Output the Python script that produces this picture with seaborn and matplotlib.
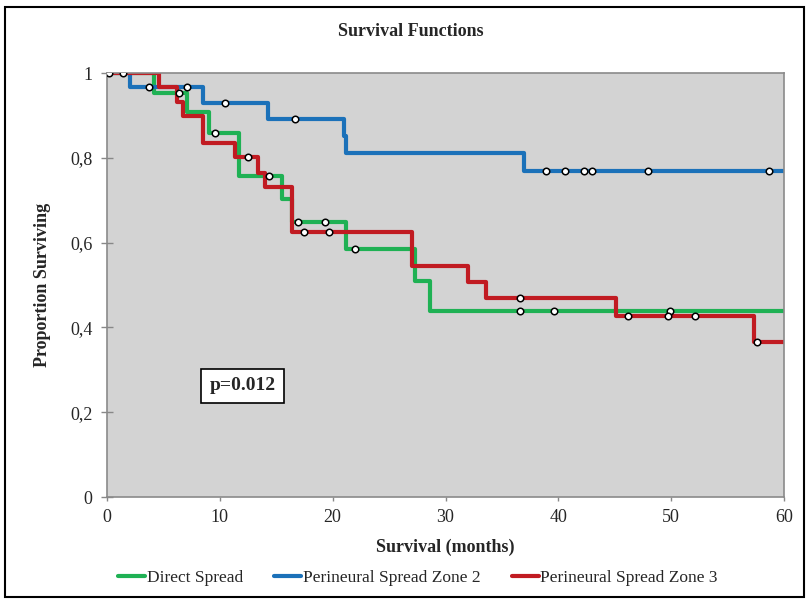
import numpy as np
import pandas as pd
import matplotlib
matplotlib.use("Agg")
import matplotlib.pyplot as plt
from matplotlib.lines import Line2D
from matplotlib.patches import Rectangle
import seaborn as sns

sns.set_theme(style="white")
plt.rcParams['font.family'] = ['Liberation Serif', 'DejaVu Serif']

# step curves (time in months, proportion after the step)
groups = ["Direct Spread", "Perineural Spread Zone 2", "Perineural Spread Zone 3"]
colors = ["#1fb154", "#1b71b9", "#c11b22"]

direct_t = [0, 4.2, 7.1, 9.0, 11.7, 15.5, 16.4, 21.2, 27.3, 28.6]
direct_s = [1.0, 0.952, 0.907, 0.859, 0.757, 0.702, 0.649, 0.585, 0.510, 0.439]
zone2_t = [0, 2.0, 8.5, 14.3, 21.0, 21.2, 37.0]
zone2_s = [1.0, 0.968, 0.930, 0.892, 0.851, 0.812, 0.770]
zone3_t = [0, 4.6, 6.2, 6.7, 8.5, 11.3, 13.4, 14.0, 16.4, 27.0, 32.0, 33.6, 45.1, 57.3]
zone3_s = [1.0, 0.968, 0.932, 0.899, 0.834, 0.801, 0.763, 0.732, 0.626, 0.545, 0.507, 0.470, 0.427, 0.365]

# censored observations
direct_ct = [6.4, 9.6, 14.4, 16.9, 19.3, 22.0, 36.6, 39.6, 49.9]
direct_cs = [0.952, 0.859, 0.757, 0.649, 0.649, 0.585, 0.439, 0.439, 0.439]
zone2_ct = [3.7, 7.1, 10.5, 16.7, 38.9, 40.6, 42.3, 42.95, 47.97, 58.7]
zone2_cs = [0.968, 0.968, 0.930, 0.892, 0.770, 0.770, 0.770, 0.770, 0.770, 0.770]
zone3_ct = [0.2, 1.4, 12.5, 17.5, 19.7, 36.6, 46.2, 49.7, 52.1, 57.6]
zone3_cs = [1.0, 1.0, 0.801, 0.626, 0.626, 0.470, 0.427, 0.427, 0.427, 0.365]

end_time = 60

rows = []
for g, t, s in zip(groups, [direct_t, zone2_t, zone3_t], [direct_s, zone2_s, zone3_s]):
    for ti, si in zip(t + [end_time], s + [s[-1]]):
        rows.append({"Time": ti, "Surv": si, "Group": g})
curves = pd.DataFrame(rows)

crows = []
for g, t, s in zip(groups, [direct_ct, zone2_ct, zone3_ct], [direct_cs, zone2_cs, zone3_cs]):
    for ti, si in zip(t, s):
        crows.append({"Time": ti, "Surv": si, "Group": g})
censored = pd.DataFrame(crows)

fig = plt.figure(figsize=(8.09, 6.01), dpi=100)
fig.patch.set_facecolor("white")
ax = fig.add_axes([107/809, 1 - 497/601, 677/809, 424/601])
ax.set_facecolor("#d3d3d3")

sns.lineplot(data=curves, x="Time", y="Surv", hue="Group", hue_order=groups,
             palette=colors, drawstyle="steps-post", estimator=None, sort=False,
             linewidth=3.0, legend=False, ax=ax)
sns.scatterplot(data=censored, x="Time", y="Surv", color="white", edgecolor="black",
                s=22, linewidth=1.1, legend=False, ax=ax, zorder=5)

ax.set_xlim(0, 60)
ax.set_ylim(0, 1)
ax.set_xticks(np.arange(0, 61, 10))
ax.set_yticks(np.arange(0, 1.01, 0.2))
ax.set_yticklabels(["0", "0,2", "0,4", "0,6", "0,8", "1"])
ax.tick_params(axis="y", direction="inout", length=9, width=1, color="#888888",
               labelsize=13, pad=6, left=True)
ax.tick_params(axis="x", direction="out", length=3, width=1, color="#888888",
               labelsize=13, pad=6, bottom=True)
for sp in ax.spines.values():
    sp.set_color("#8a8a8a")
    sp.set_linewidth(1.2)

ax.set_xlabel("Survival (months)", fontsize=13, fontweight="bold", labelpad=9)
ax.set_ylabel("Proportion Surviving", fontsize=13, fontweight="bold", labelpad=14)
fig.text(411/809, 1 - 32/601, "Survival Functions", fontsize=13, fontweight="bold",
         ha="center", va="center")

ax.text(12.0, 0.262, "p=0.012", fontsize=14, fontweight="bold", ha="center", va="center",
        bbox=dict(boxstyle="square,pad=0.45", facecolor="white", edgecolor="black", linewidth=1.2))

handles = [Line2D([0], [0], color=c, lw=3.0) for c in colors]
fig.legend(handles, groups, loc="center", bbox_to_anchor=(418/809, 1 - 578/601), ncol=3,
           frameon=False, fontsize=12.5, handlelength=1.55, handletextpad=0.1,
           columnspacing=1.8)

fig.add_artist(Rectangle((5/809, 4/601), 799/809, 590/601, transform=fig.transFigure,
                         fill=False, edgecolor="black", linewidth=1.5))

plt.savefig("out.png", dpi=100)
